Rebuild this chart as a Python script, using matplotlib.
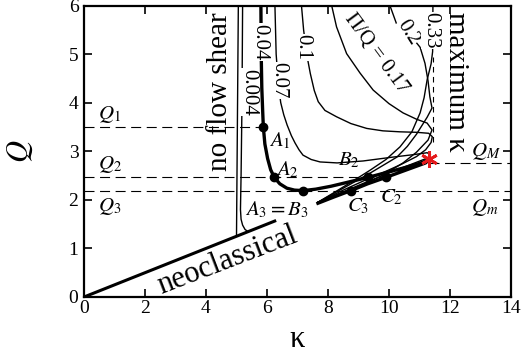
import numpy as np
import matplotlib.pyplot as plt

plt.rcParams['font.family'] = ['Liberation Serif', 'DejaVu Serif']
plt.rcParams['mathtext.fontset'] = 'stix'

# neoclassical line and the no flow shear line, (kappa, Q)
neo_kappa = [0.0, 6.3]
neo_Q = [0.0, 1.575]
noshear_kappa = [5.06, 5.0]
noshear_Q = [6.0, 1.25]

# Pi/Q contours, (kappa, Q)
c_0004 = [(5.2, 6.0), (5.18, 4.0), (5.15, 2.5), (5.13, 1.8), (5.15, 1.6),
          (5.2, 1.48), (5.28, 1.39), (5.38, 1.345)]
c_004 = [(5.80, 6.0), (5.81, 5.0), (5.83, 4.3), (5.86, 3.8), (5.88, 3.5),
         (5.93, 3.15), (6.02, 2.85), (6.12, 2.62), (6.24, 2.46), (6.42, 2.33),
         (6.65, 2.24), (6.9, 2.2), (7.19, 2.19), (7.6, 2.22), (8.1, 2.28),
         (8.7, 2.37), (9.3, 2.46), (9.9, 2.56), (10.5, 2.66), (11.0, 2.75),
         (11.3, 2.82), (11.2, 2.76), (10.5, 2.6), (9.89, 2.46), (9.3, 2.33),
         (8.75, 2.19), (8.2, 2.06), (7.67, 1.93)]
c_007 = [(6.26, 6.0), (6.3, 5.0), (6.37, 4.4), (6.45, 4.0), (6.55, 3.75),
         (6.66, 3.54), (6.8, 3.32), (6.92, 3.17), (7.05, 3.03), (7.18, 2.92),
         (7.45, 2.83), (7.74, 2.78), (8.3, 2.76), (9.15, 2.8), (10.13, 2.88),
         (10.8, 2.93), (11.25, 2.97), (11.36, 2.93), (11.3, 2.87), (10.6, 2.7),
         (9.9, 2.53), (9.2, 2.35), (8.4, 2.14), (7.67, 1.95)]
c_01 = [(7.13, 6.0), (7.2, 5.5), (7.3, 5.0), (7.42, 4.6), (7.55, 4.25),
        (7.68, 4.02), (7.9, 3.84), (8.28, 3.71), (8.75, 3.57), (9.27, 3.47),
        (9.8, 3.42), (10.36, 3.4), (10.9, 3.39), (11.3, 3.37), (11.42, 3.3),
        (11.38, 3.18), (11.2, 3.03), (10.9, 2.89), (10.4, 2.73), (9.8, 2.56),
        (9.2, 2.4), (8.5, 2.2), (7.67, 1.95)]
c_017 = [(8.12, 6.0), (8.28, 5.56), (8.61, 5.01), (9.05, 4.61), (9.48, 4.26),
         (10.0, 3.98), (10.46, 3.79), (10.9, 3.66), (11.25, 3.58), (11.41, 3.44),
         (11.28, 3.23), (10.9, 2.98), (10.46, 2.76), (9.7, 2.47), (8.7, 2.2),
         (7.67, 1.95)]
c_02 = [(10.03, 6.0), (10.26, 5.6), (10.62, 5.45), (11.02, 5.14), (11.18, 4.81),
        (11.28, 4.45), (11.34, 4.12), (11.41, 3.89), (11.25, 3.7), (10.9, 3.35),
        (10.6, 3.1), (10.26, 2.88), (9.38, 2.55), (8.5, 2.24), (7.67, 1.95)]
c_033 = [(11.44, 6.0), (11.43, 5.05), (11.38, 4.8), (11.25, 4.47), (11.15, 4.1),
         (11.02, 3.79), (10.75, 3.4), (10.36, 3.09), (9.9, 2.83), (9.38, 2.61),
         (8.8, 2.38), (8.2, 2.15), (7.67, 1.95)]

# contour labels
clab_text = ['0.004', '0.04', '0.07', '0.1', 'Π/Q = 0.17', '0.2', '0.33']
clab_kappa = [5.41, 5.77, 6.37, 7.16, 9.57, 10.62, 11.38]
clab_Q = [4.22, 5.25, 4.46, 5.14, 5.02, 5.45, 5.49]
clab_rot = [-90, -90, -90, -90, -53.5, -58, -90]

# Q levels
Q1, Q2, Q3, QM = 3.5, 2.46, 2.18, 2.75
star_kappa, star_Q = 11.3, 2.84

# marked states
pt_name = ['$A_1$', '$A_2$', '$A_3 = B_3$', '$B_2$', '$C_3$', '$C_2$']
pt_kappa = [5.88, 6.24, 7.19, 9.3, 8.75, 9.89]
pt_Q = [3.5, 2.46, 2.18, 2.46, 2.18, 2.46]
lab_kappa = [6.08, 6.3, 5.28, 8.33, 8.62, 9.7]
lab_Q = [3.42, 2.82, 2.0, 3.02, 2.06, 2.26]

fig = plt.figure(figsize=(5.24, 3.58), dpi=100)
ax = fig.add_axes([0.1603, 0.1704, 0.8149, 0.8142])

dash = (9, 5)
ax.plot([0, pt_kappa[0]], [Q1, Q1], 'k', lw=0.8, dashes=dash)
ax.plot([0, pt_kappa[5]], [Q2, Q2], 'k', lw=0.8, dashes=dash)
ax.plot([0, 14], [Q3, Q3], 'k', lw=0.8, dashes=dash)
ax.plot([star_kappa, 14], [QM, QM], 'k', lw=0.8, dashes=dash)
ax.plot([11.45, 11.45], [3.2, 4.95], 'k', lw=0.8, dashes=(5, 4))

ax.plot(neo_kappa, neo_Q, 'k', lw=2.2, solid_capstyle='butt')
ax.plot(noshear_kappa, noshear_Q, 'k', lw=1.0)

for c in [c_0004, c_007, c_01, c_017, c_02, c_033]:
    k, q = zip(*c)
    ax.plot(k, q, 'k', lw=1.0, solid_joinstyle='round')
k, q = zip(*c_004)
ax.plot(k, q, 'k', lw=2.4, solid_joinstyle='round')

for t, x, y, r in zip(clab_text, clab_kappa, clab_Q, clab_rot):
    ax.text(x, y, t, rotation=r, ha='center', va='center', fontsize=15,
            rotation_mode='anchor',
            bbox=dict(fc='white', ec='none', pad=0.3))

ax.plot(pt_kappa, pt_Q, 'o', color='k', ms=6)
for t, x, y in zip(pt_name, lab_kappa, lab_Q):
    ax.text(x, y, t, ha='left', va='top', fontsize=15)

ax.plot(star_kappa, star_Q, marker=(6, 2, 0), color='#e41a1c', ms=12, mew=2)

ax.text(0.45, Q1 + 0.05, '$Q_1$', ha='left', va='bottom', fontsize=15)
ax.text(0.45, Q2 + 0.05, '$Q_2$', ha='left', va='bottom', fontsize=15)
ax.text(0.45, Q3 - 0.1, '$Q_3$', ha='left', va='top', fontsize=15)
ax.text(12.7, QM + 0.03, '$Q_M$', ha='left', va='bottom', fontsize=15)
ax.text(12.7, Q3 - 0.12, '$Q_m$', ha='left', va='top', fontsize=15)

ax.text(4.46, 4.22, 'no flow shear', rotation=90, ha='center', va='center',
        fontsize=21)
ax.text(12.2, 4.42, 'maximum κ', rotation=-90, ha='center', va='center',
        fontsize=21)
ax.text(4.7, 0.76, 'neoclassical', rotation=21, ha='center', va='center',
        fontsize=22, rotation_mode='anchor')

ax.set_xlim(0, 14)
ax.set_ylim(0, 6)
ax.set_xticks(np.arange(0, 15, 2))
ax.set_yticks(np.arange(0, 7, 1))
ax.tick_params(direction='in', top=True, right=True, length=6, width=1.2,
               labelsize=14)
ax.tick_params(axis='x', pad=2)
ax.tick_params(axis='y', pad=4)
for s in ax.spines.values():
    s.set_linewidth(1.6)

ax.set_xlabel('κ', fontsize=22, labelpad=6)
ax.set_ylabel('$Q$', fontsize=22, labelpad=24)

fig.savefig('out.png', dpi=100)
